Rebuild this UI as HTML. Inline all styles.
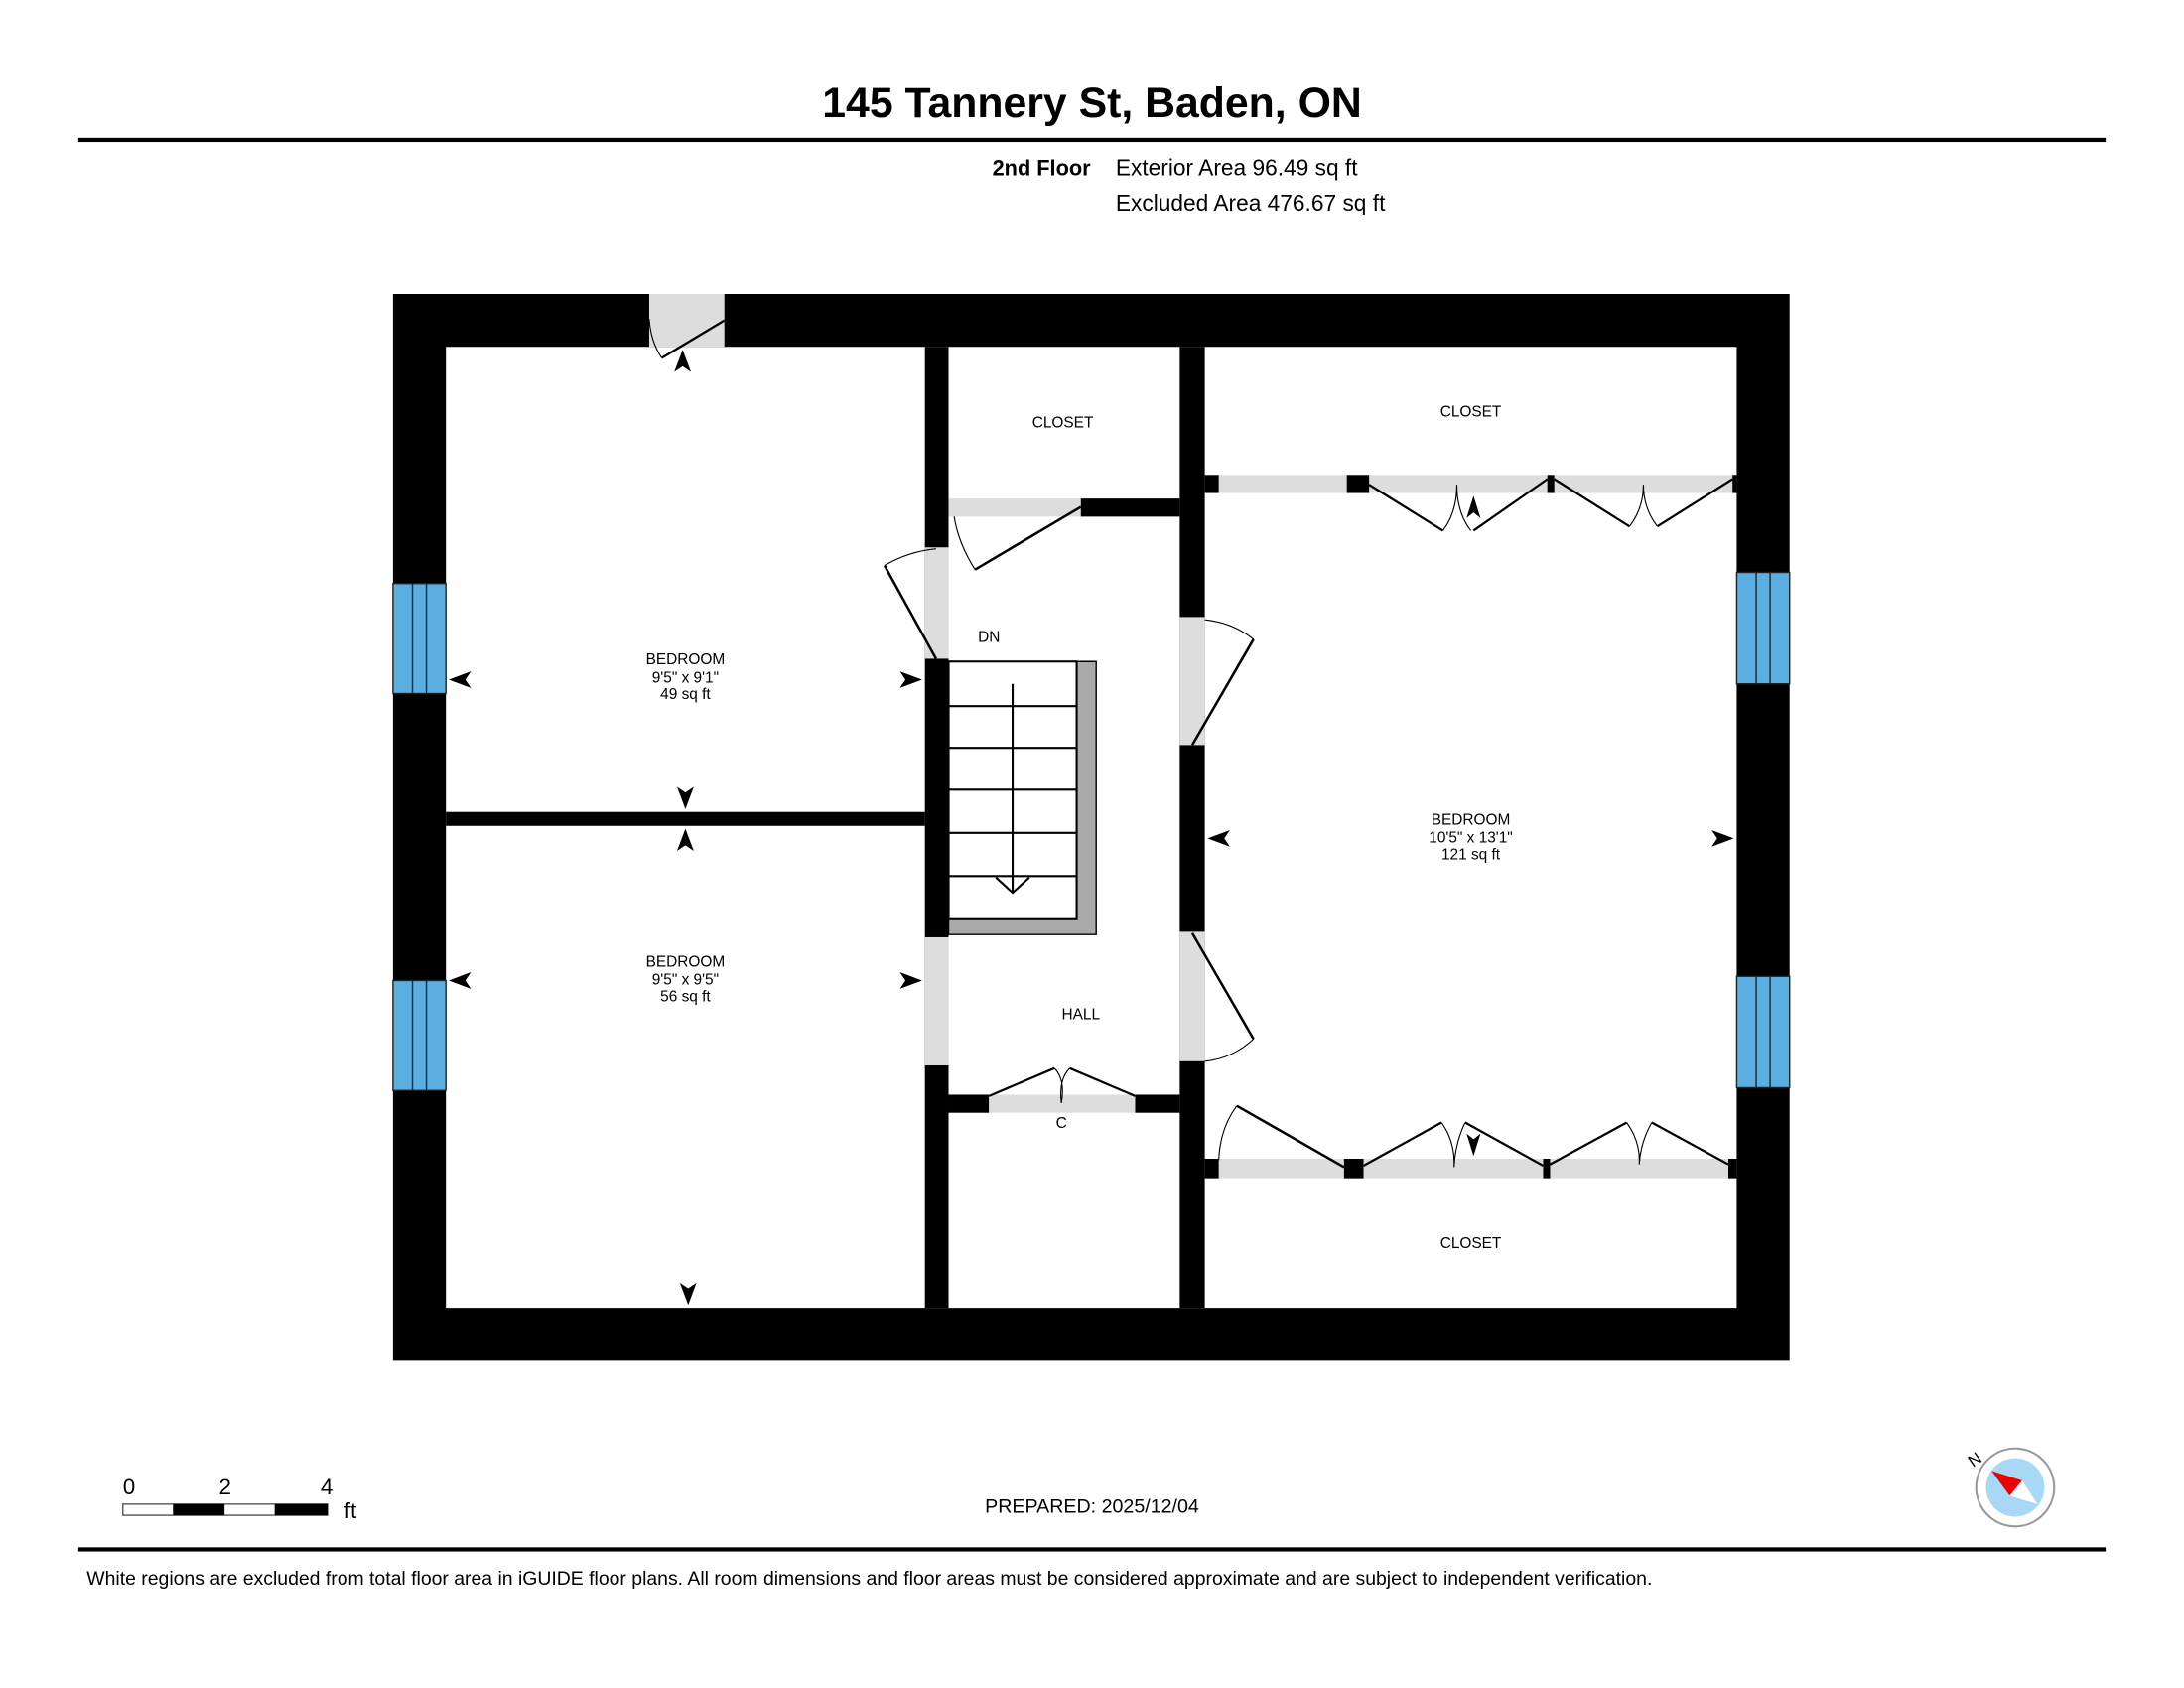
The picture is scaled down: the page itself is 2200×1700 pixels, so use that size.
<!DOCTYPE html>
<html><head><meta charset="utf-8"><style>html,body{margin:0;padding:0;background:#fff}svg{display:block}text{font-family:"Liberation Sans",sans-serif}</style></head><body>
<svg width="2200" height="1700" viewBox="0 0 1568 1212" xmlns="http://www.w3.org/2000/svg">
<rect width="1568" height="1212" fill="#fff"/>
<text x="784" y="84" text-anchor="middle" font-size="30.5" font-weight="bold">145 Tannery St, Baden, ON</text>
<rect x="56" y="99" width="1456" height="3" fill="#000"/>
<text x="783" y="126" text-anchor="end" font-size="15.5" font-weight="bold">2nd Floor</text>
<text x="801" y="126" font-size="16.2">Exterior Area 96.49 sq ft</text>
<text x="801" y="151" font-size="16.2">Excluded Area 476.67 sq ft</text>

<path d="M282 211H1285V977H282Z M320 249V939H1247V249Z" fill="#000" fill-rule="evenodd"/>
<rect x="466" y="211" width="54" height="38" fill="#ddd"/>
<path d="M475 257L520 230" stroke="#000" stroke-width="1.6" fill="none"/>
<path d="M475 257Q467 245 466 229" stroke="#000" stroke-width="0.8" fill="none"/>
<g fill="#5aaee0" stroke="#222" stroke-width="1">
<rect x="282" y="419" width="38" height="79"/><rect x="282" y="704" width="38" height="79"/>
<rect x="1247" y="411" width="38" height="80"/><rect x="1247" y="701" width="38" height="80"/>
</g>
<g stroke="#222" stroke-width="1">
<path d="M296 419V498M306 419V498M296 704V783M306 704V783M1261 411V491M1271 411V491M1261 701V781M1271 701V781"/>
</g>
<rect x="664" y="249" width="17" height="690" fill="#000"/>
<rect x="664" y="393" width="17" height="80" fill="#ddd"/>
<rect x="664" y="673" width="17" height="92" fill="#ddd"/>
<rect x="320" y="583" width="344" height="10" fill="#000"/>
<rect x="847" y="249" width="18" height="690" fill="#000"/>
<rect x="847" y="443" width="18" height="92" fill="#ddd"/>
<rect x="847" y="669" width="18" height="93" fill="#ddd"/>
<rect x="681" y="358" width="95" height="13" fill="#ddd"/>
<rect x="776" y="358" width="71" height="13" fill="#000"/>
<rect x="681" y="786" width="29" height="13" fill="#000"/>
<rect x="710" y="786" width="105" height="13" fill="#ddd"/>
<rect x="815" y="786" width="32" height="13" fill="#000"/>
<rect x="865" y="341" width="382" height="13" fill="#ddd"/>
<g fill="#000"><rect x="865" y="341" width="10" height="13"/><rect x="967" y="341" width="16" height="13"/><rect x="1111" y="341" width="5" height="13"/><rect x="1244" y="341" width="3" height="13"/></g>
<rect x="865" y="832" width="382" height="14" fill="#ddd"/>
<g fill="#000"><rect x="865" y="832" width="10" height="14"/><rect x="965" y="832" width="14" height="14"/><rect x="1108" y="832" width="5" height="14"/><rect x="1241" y="832" width="6" height="14"/></g>
<g stroke="#000" fill="none">
<path d="M700 409L776 364" stroke-width="1.8"/><path d="M700 409Q688 390 685 371" stroke-width="0.8"/>
<path d="M672 473L635 406" stroke-width="1.8"/><path d="M635 406Q652 396 672 394" stroke-width="0.8"/>
<path d="M856 535L900 459" stroke-width="1.8"/><path d="M900 459Q885 447 865 445" stroke-width="0.8"/>
<path d="M856 670L900 746" stroke-width="1.8"/><path d="M900 746Q885 760 865 762" stroke-width="0.8"/>
<path d="M710 787L757 767M815 787L768 767" stroke-width="1.6"/><path d="M757 767Q765 775 762 792Q760 775 768 767" stroke-width="0.8"/>
<path d="M983 348L1036 381M1111 344L1058 381" stroke-width="1.6"/>
<path d="M1036 381Q1046 368 1046 348Q1046 368 1056 381" stroke-width="0.8"/>
<path d="M1116 344L1170 378M1244 344L1190 378" stroke-width="1.6"/>
<path d="M1170 378Q1180 365 1180 348Q1180 365 1190 378" stroke-width="0.8"/>
<path d="M965 838L888 794" stroke-width="1.8"/><path d="M888 794Q876 810 875 833" stroke-width="0.8"/>
<path d="M979 837L1035 806M1108 837L1052 806" stroke-width="1.6"/>
<path d="M1035 806Q1045 820 1044 838Q1045 820 1052 806" stroke-width="0.8"/>
<path d="M1113 836L1168 806M1241 836L1186 806" stroke-width="1.6"/>
<path d="M1168 806Q1178 820 1177 836Q1178 820 1186 806" stroke-width="0.8"/>
</g>
<path d="M681 475H787V671H681V660H773V475Z" fill="#aaa" stroke="#000" stroke-width="1"/>
<rect x="681" y="475" width="92" height="185" fill="#fff" stroke="#000" stroke-width="1.5"/>
<g stroke="#000" stroke-width="1.5"><path d="M681 507H773M681 537H773M681 567H773M681 598H773M681 629H773"/>
<path d="M727 491V641M715 630L727 641L739 630" fill="none"/></g>
<g fill="#000">
<path d="M322 488L338 482L334 488L338 494Z"/><path d="M662 488L646 482L650 488L646 494Z"/>
<path d="M492 581L486 565L492 569L498 565Z"/><path d="M492 595L486 611L492 607L498 611Z"/>
<path d="M322 704L338 698L334 704L338 710Z"/><path d="M662 704L646 698L650 704L646 710Z"/>
<path d="M494 937L488 921L494 925L500 921Z"/><path d="M490 251L484 267L490 263L496 267Z"/>
<path d="M867 602L883 596L879 602L883 608Z"/><path d="M1245 602L1229 596L1233 602L1229 608Z"/>
<path d="M1058 356L1053 372L1058 368L1063 372Z"/><path d="M1058 830L1053 814L1058 818L1063 814Z"/>
</g>
<g font-size="11" text-anchor="middle">
<text x="492" y="477">BEDROOM</text><text x="492" y="490">9'5" x 9'1"</text><text x="492" y="502">49 sq ft</text>
<text x="492" y="694">BEDROOM</text><text x="492" y="707">9'5" x 9'5"</text><text x="492" y="719">56 sq ft</text>
<text x="1056" y="592">BEDROOM</text><text x="1056" y="605">10'5" x 13'1"</text><text x="1056" y="617">121 sq ft</text>
<text x="763" y="307">CLOSET</text><text x="1056" y="299">CLOSET</text><text x="1056" y="896">CLOSET</text>
<text x="710" y="461">DN</text><text x="776" y="732">HALL</text><text x="762" y="810">C</text>
</g>
<text x="88" y="1073" font-size="16">0</text><text x="157" y="1073" font-size="16">2</text><text x="230" y="1073" font-size="16">4</text>
<text x="247" y="1090" font-size="16">ft</text>
<rect x="88" y="1080" width="147" height="8" fill="#fff" stroke="#555" stroke-width="1"/>
<rect x="124" y="1080" width="37" height="8" fill="#000"/><rect x="197" y="1080" width="38" height="8" fill="#000"/>
<text x="784" y="1086" text-anchor="middle" font-size="14">PREPARED: 2025/12/04</text>
<circle cx="1447" cy="1068" r="28" fill="#fff" stroke="#999" stroke-width="1.5"/>
<circle cx="1447" cy="1068" r="21" fill="#a8d8f5"/>
<path d="M1430 1056L1452 1063L1463 1080L1443 1074Z" fill="#fff"/>
<path d="M1430 1056L1452 1063L1443 1074Z" fill="#e00"/>
<text x="1418" y="1052" font-size="12" transform="rotate(-35 1418 1048)" text-anchor="middle">N</text>
<rect x="56" y="1111" width="1456" height="3" fill="#000"/>
<text x="62" y="1138" font-size="13.85">White regions are excluded from total floor area in iGUIDE floor plans. All room dimensions and floor areas must be considered approximate and are subject to independent verification.</text>
</svg>
</body></html>
